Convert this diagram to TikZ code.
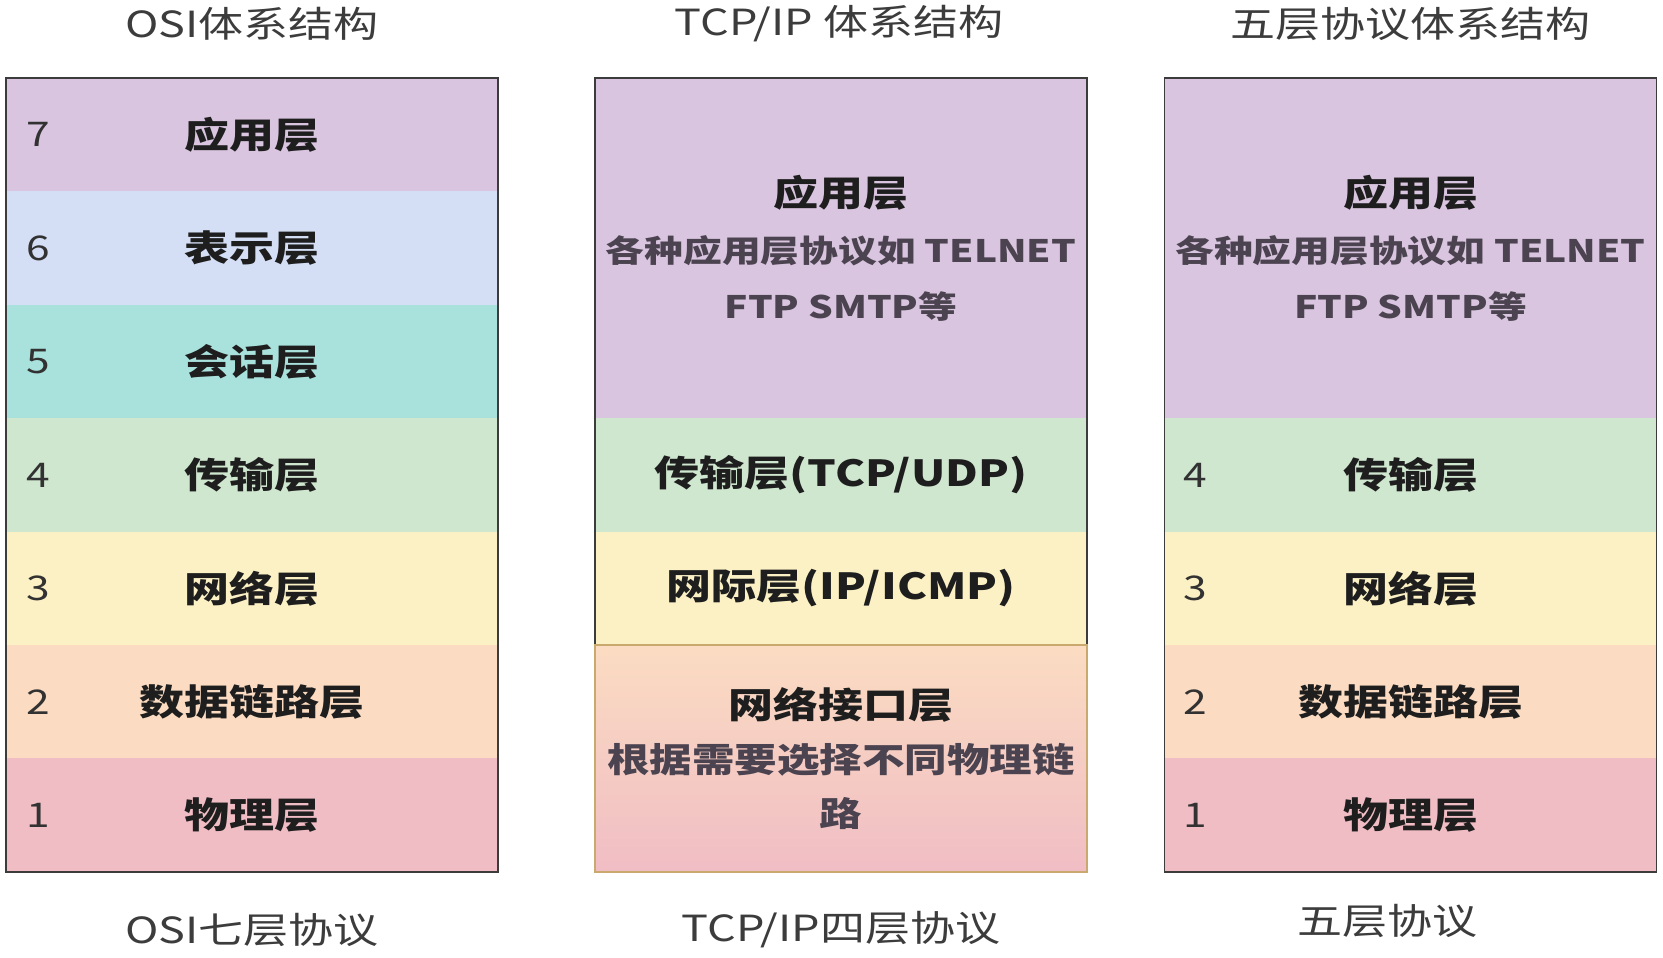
\documentclass[tikz,border=0pt]{standalone}
\usepackage{fontspec}
\setmainfont{Noto Sans CJK SC}[FakeStretch=1.25]
\usetikzlibrary{positioning}
\definecolor{appcol}{RGB}{218,197,224}
\definecolor{prescol}{RGB}{212,223,245}
\definecolor{sesscol}{RGB}{169,226,221}
\definecolor{transcol}{RGB}{207,230,207}
\definecolor{netcol}{RGB}{252,241,197}
\definecolor{linkcol}{RGB}{251,220,194}
\definecolor{physcol}{RGB}{240,189,196}
\definecolor{boxline}{RGB}{60,60,60}
\definecolor{tanline}{RGB}{201,169,110}
\definecolor{laytext}{RGB}{30,30,30}
\definecolor{subtext}{RGB}{75,67,80}
\definecolor{numtext}{RGB}{50,50,50}
\definecolor{titletext}{RGB}{60,60,60}

\begin{document}
\begin{tikzpicture}[x=1pt, y=1pt, every node/.style={inner sep=0pt, outer sep=0pt},
  lay/.style={minimum width=492pt, minimum height=113.4pt, fill=#1, text=laytext, font=\bfseries\fontsize{36}{42}\selectfont},
  num/.style={text=numtext, font=\fontsize{34}{40}\selectfont},
  ttl/.style={text=titletext, font=\fontsize{36}{42}\selectfont},
  sub/.style={align=center, text=laytext, font=\bfseries\fontsize{31}{56}\selectfont},
  box/.style={draw=boxline, line width=1.5pt}]
 \useasboundingbox (0,0) rectangle (1663,-958);

 % OSI
 \node[lay=appcol, anchor=north west] (o7) at (6,-78) {应用层};
 \node[lay=prescol, below=0pt of o7] (o6) {表示层};
 \node[lay=sesscol, below=0pt of o6] (o5) {会话层};
 \node[lay=transcol, below=0pt of o5] (o4) {传输层};
 \node[lay=netcol, below=0pt of o4] (o3) {网络层};
 \node[lay=linkcol, below=0pt of o3] (o2) {数据链路层};
 \node[lay=physcol, below=0pt of o2] (o1) {物理层};
 \draw[box] (o7.north west) rectangle (o1.south east);
 \node[num] at ([xshift=32]o7.west) {7};
 \node[num] at ([xshift=32]o6.west) {6};
 \node[num] at ([xshift=32]o5.west) {5};
 \node[num] at ([xshift=32]o4.west) {4};
 \node[num] at ([xshift=32]o3.west) {3};
 \node[num] at ([xshift=32]o2.west) {2};
 \node[num] at ([xshift=32]o1.west) {1};

 % TCP/IP
 \node[lay=appcol, minimum height=340.2pt, anchor=north west] (tapp) at (595,-78) {};
 \node[sub] at (tapp) {{\fontsize{36}{56}\selectfont 应用层}\\\color{subtext}各种应用层协议如 TELNET\\\color{subtext}FTP SMTP等};
 \node[lay=transcol, below=0pt of tapp] (ttrans) {传输层(TCP/UDP)};
 \node[lay=netcol, below=0pt of ttrans] (tnet) {网际层(IP/ICMP)};
 \node[lay=linkcol, minimum height=226.8pt, top color=linkcol, bottom color=physcol, below=0pt of tnet] (tif) {};
 \node[sub, font=\bfseries\fontsize{34}{54}\selectfont] at (tif) {{\fontsize{36}{54}\selectfont 网络接口层}\\\color{subtext}根据需要选择不同物理链\\\color{subtext}路};
 \draw[box] (tapp.north west) rectangle (tnet.south east);
 \draw[box, draw=tanline] (tif.north west) rectangle (tif.south east);

 % five layers
 \node[lay=appcol, minimum height=340.2pt, anchor=north west] (fapp) at (1164.5,-78) {};
 \node[sub] at (fapp) {{\fontsize{36}{56}\selectfont 应用层}\\\color{subtext}各种应用层协议如 TELNET\\\color{subtext}FTP SMTP等};
 \node[lay=transcol, below=0pt of fapp] (f4) {传输层};
 \node[lay=netcol, below=0pt of f4] (f3) {网络层};
 \node[lay=linkcol, below=0pt of f3] (f2) {数据链路层};
 \node[lay=physcol, below=0pt of f2] (f1) {物理层};
 \draw[box] (fapp.north west) rectangle (f1.south east);
 \node[num] at ([xshift=31]f4.west) {4};
 \node[num] at ([xshift=31]f3.west) {3};
 \node[num] at ([xshift=31]f2.west) {2};
 \node[num] at ([xshift=31]f1.west) {1};

 % titles
 \node[ttl] (osittl) at (252,-24) {OSI体系结构};
 \node[ttl] (tcpttl) at (839,-24) {TCP/IP 体系结构};
 \node[ttl] (fivettl) at (1410,-24) {五层协议体系结构};
 \node[ttl] (osicap) at (252,-930) {OSI七层协议};
 \node[ttl] (tcpcap) at (841,-930) {TCP/IP四层协议};
 \node[ttl] (fivecap) at (1387,-921) {五层协议};
\end{tikzpicture}
\end{document}
